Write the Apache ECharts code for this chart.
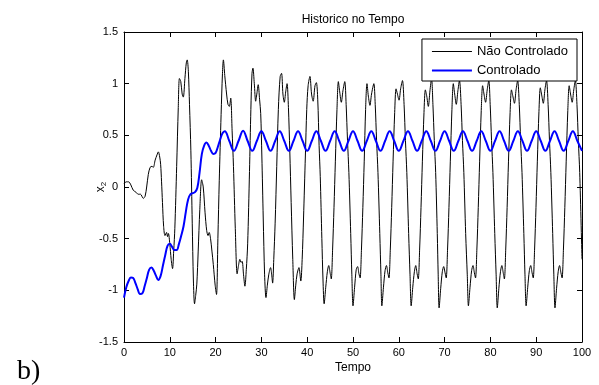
<!DOCTYPE html>
<html>
<head>
<meta charset="utf-8">
<script src="https://cdn.jsdelivr.net/npm/echarts@6/dist/echarts.min.js"></script>
<style>html,body{margin:0;padding:0;background:#fff;}#c{width:599px;height:385px;}</style>
</head>
<body>
<div id="c"></div>
<script>
// ---- data ----
var xTicks = [0,10,20,30,40,50,60,70,80,90,100];
var yTicks = [-1.5,-1,-0.5,0,0.5,1,1.5];

var naoControladoT = [
0,0.5,1.0,1.5,2.0,2.6,3.1,3.6,4.2,4.6,4.95,5.3,5.7,6.1,6.4,6.8,7.2,7.5,7.8,8.0,8.2,8.4,8.65,8.95,9.3,9.5,9.7,10.0,10.3,10.6,10.85,11.1,11.5,11.85,12.1,12.4,12.7,12.95,13.3,13.6,13.8,14.05,14.3,14.6,14.9,15.15,15.4,15.65,15.9,16.2,16.55,16.95,17.3,17.7,18.05,18.35,18.6,18.9,19.2,19.5,19.9,20.2,20.5,20.8,21.2,21.5,21.7,22.0,22.4,22.7,23.0,23.3,23.6,23.9,24.3,24.7,25.0,25.3,25.55,25.8,26.1,26.4,26.7,27.0,27.4,27.7,27.95,28.15,28.45,28.75,29.0,29.3,29.6,29.85,30.1,30.4,30.7,31.0,31.3,31.6,32.0,32.25,32.45,32.7,33.0,33.35,33.7,34.1,34.4,34.7,35.0,35.3,35.6,35.9,36.2,36.5,36.85,37.2,
37.5,37.8,38.2,38.6,38.9,39.2,39.6,39.9,40.2,40.6,40.95,41.3,41.7,42.0,42.3,42.6,42.85,43.2,43.45,43.7,
44.05,44.4,44.7,45.0,45.25,45.55,45.85,46.15,46.5,46.8,47.1,47.45,47.8,48.2,48.5,48.8,49.1,49.5,49.75,50.0,
50.35,50.7,51.0,51.3,51.55,51.85,52.15,52.45,52.75,53.05,53.35,53.7,54.05,54.55,54.85,55.15,55.45,55.85,56.1,56.3,
56.65,57.0,57.3,57.6,57.85,58.15,58.45,58.75,59.1,59.4,59.7,60.05,60.4,60.8,61.15,61.45,61.75,62.15,62.45,62.7,
63.05,63.4,63.7,64.0,64.25,64.55,64.85,65.15,65.5,65.8,66.1,66.45,66.8,67.15,67.45,67.75,68.05,68.4,68.6,68.8,
69.15,69.5,69.8,70.1,70.35,70.65,70.95,71.25,71.6,71.9,72.2,72.55,72.9,73.25,73.6,73.9,74.2,74.6,74.95,75.2,
75.55,75.9,76.2,76.5,76.75,77.05,77.35,77.65,78.0,78.3,78.6,78.95,79.3,79.65,79.95,80.25,80.55,80.95,81.25,81.5,
81.85,82.2,82.5,82.8,83.05,83.35,83.65,83.95,84.3,84.6,84.9,85.25,85.6,85.95,86.3,86.6,86.9,87.3,87.55,87.8,
88.15,88.5,88.8,89.1,89.35,89.65,89.95,90.25,90.6,90.9,91.2,91.55,91.9,92.25,92.6,92.9,93.2,93.6,93.85,94.1,
94.45,94.8,95.1,95.4,95.65,95.95,96.25,96.55,96.9,97.2,97.5,97.85,98.2,98.55,98.9,99.2,99.5,100.0
];
var naoControladoX2 = [
0.03,0.05,0.05,0.02,-0.03,-0.05,-0.07,-0.07,-0.11,-0.09,0.0,0.12,0.19,0.20,0.19,0.26,0.31,0.34,0.29,0.22,0.05,-0.15,-0.38,-0.47,-0.44,-0.48,-0.45,-0.55,-0.70,-0.79,-0.62,-0.40,0.20,0.77,1.05,1.02,0.90,0.87,1.05,1.20,1.23,1.12,0.80,0.35,-0.35,-0.90,-1.13,-1.05,-0.94,-0.62,-0.22,0.07,0.0,-0.25,-0.42,-0.47,-0.44,-0.50,-0.62,-0.75,-0.95,-1.04,-0.50,0.06,0.70,1.10,1.23,1.08,0.90,0.80,0.78,0.86,0.55,0.20,-0.40,-0.84,-0.76,-0.70,-0.73,-0.72,-0.85,-0.96,-0.80,-0.55,0.15,0.75,1.10,1.15,1.00,0.83,0.90,0.99,0.85,0.71,0.30,-0.30,-0.85,-1.07,-0.95,-0.85,-0.78,-0.85,-0.93,-0.70,-0.35,0.20,0.75,1.07,1.10,0.90,0.82,0.92,1.00,0.77,0.35,-0.15,-0.70,-1.09,
-0.95,-0.84,-0.78,-0.91,-0.70,-0.30,0.30,0.75,0.98,1.07,0.90,0.83,0.98,1.01,0.85,0.40,0.10,-0.50,-0.90,-1.13,
-0.97,-0.82,-0.76,-0.83,-0.89,-0.60,-0.20,0.25,0.75,1.02,0.92,0.82,0.93,1.02,0.80,0.45,0.14,-0.45,-0.85,-1.15,
-0.97,-0.80,-0.77,-0.84,-0.88,-0.60,-0.20,0.25,0.75,1.00,0.88,0.79,0.90,1.00,0.80,0.45,0.14,-0.45,-0.85,-1.15,
-0.97,-0.81,-0.76,-0.83,-0.88,-0.60,-0.20,0.25,0.72,0.95,0.90,0.84,0.95,1.03,0.80,0.45,0.14,-0.45,-0.85,-1.15,
-0.97,-0.82,-0.76,-0.84,-0.89,-0.60,-0.20,0.25,0.72,0.94,0.88,0.78,0.93,1.05,0.80,0.45,0.14,-0.45,-0.85,-1.17,
-0.98,-0.82,-0.77,-0.83,-0.88,-0.60,-0.20,0.25,0.75,1.00,0.90,0.80,0.93,1.03,0.80,0.45,0.14,-0.45,-0.85,-1.15,
-0.97,-0.81,-0.76,-0.83,-0.88,-0.60,-0.20,0.25,0.74,0.98,0.90,0.82,0.94,1.03,0.80,0.45,0.14,-0.45,-0.85,-1.17,
-0.98,-0.82,-0.76,-0.83,-0.89,-0.60,-0.20,0.25,0.72,0.94,0.88,0.81,0.94,1.03,0.80,0.45,0.14,-0.45,-0.85,-1.15,
-0.97,-0.81,-0.76,-0.83,-0.88,-0.60,-0.20,0.25,0.73,0.96,0.89,0.81,0.94,1.03,0.80,0.45,0.14,-0.45,-0.85,-1.17,
-0.98,-0.82,-0.76,-0.83,-0.88,-0.60,-0.20,0.25,0.74,0.98,0.90,0.82,0.94,1.03,0.80,0.45,0.14,-0.70
];

var controladoT = [
0,0.5,1,1.5,2,2.5,3,3.5,4,4.5,5,5.5,6,6.5,7,7.5,8,8.5,9,9.5,10,10.5,11,11.5,12,12.5,13,13.5,14,14.5,15,15.5,16,16.5,17,17.5,18,18.5,19,19.5,20,20.5,21,21.5,22,
23,24,25,26,27,28,29,30,31,32,33,34,35,36,37,38,39,40,41,42,43,44,45,46,47,48,49,50,51,52,53,54,55,56,57,58,59,60,61,62,63,64,65,66,67,68,69,70,71,72,73,74,75,76,77,78,79,80,81,82,83,84,85,86,87,88,89,90,91,92,93,94,95,96,97,98,99,100
];
var controladoX2 = [
-1.07,-0.97,-0.91,-0.875,-0.88,-0.93,-0.99,-1.035,-1.03,-0.96,-0.88,-0.80,-0.78,-0.81,-0.86,-0.90,-0.86,-0.76,-0.66,-0.57,-0.55,-0.58,-0.61,-0.61,-0.55,-0.47,-0.38,-0.24,-0.12,-0.07,-0.06,-0.05,-0.01,0.14,0.32,0.40,0.43,0.40,0.35,0.32,0.33,0.39,0.46,0.52,0.54,
0.445,0.35,0.445,0.545,0.445,0.35,0.445,0.54,0.445,0.35,0.445,0.54,0.445,0.35,0.445,0.54,0.445,0.35,0.445,0.54,0.445,0.35,0.445,0.54,0.445,0.35,0.445,0.54,0.445,0.35,0.445,0.54,0.445,0.35,0.445,0.54,0.445,0.35,0.445,0.54,0.445,0.35,0.445,0.54,0.445,0.35,0.445,0.54,0.445,0.35,0.445,0.54,0.445,0.35,0.445,0.54,0.445,0.35,0.445,0.54,0.445,0.35,0.445,0.54,0.445,0.35,0.445,0.54,0.445,0.35,0.445,0.54,0.445,0.35,0.445,0.54,0.445,0.35
];

var seriesNames = ['Não Controlado', 'Controlado'];
var titleText = 'Historico no Tempo';
var xName = 'Tempo';
var panelLabel = 'b)';

function zip(a, b) { var r = []; for (var i = 0; i < a.length; i++) r.push([a[i], b[i]]); return r; }

var FONT = 'Liberation Sans, Arial, sans-serif';
var chart = echarts.init(document.getElementById('c'), null, {renderer: 'canvas'});

var axisCommon = {
  type: 'value',
  axisLine: {show: true, onZero: false, lineStyle: {color: '#000', width: 1}},
  axisTick: {show: true, inside: true, length: 5, lineStyle: {color: '#000', width: 1}},
  splitLine: {show: false},
  axisLabel: {color: '#000', fontSize: 11, fontFamily: FONT}
};

chart.setOption({
  animation: false,
  backgroundColor: '#fff',
  grid: {left: 124, right: 17, top: 32, bottom: 43, containLabel: false},
  xAxis: [
    Object.assign({}, axisCommon, {
      position: 'bottom', min: xTicks[0], max: xTicks[xTicks.length - 1], interval: xTicks[1] - xTicks[0],
      axisLabel: Object.assign({}, axisCommon.axisLabel, {margin: 5}),
      name: xName, nameLocation: 'middle', nameGap: 20, nameMoveOverlap: false,
      nameTextStyle: {color: '#000', fontSize: 12, fontFamily: FONT}
    }),
    Object.assign({}, axisCommon, {
      position: 'top', min: xTicks[0], max: xTicks[xTicks.length - 1], interval: xTicks[1] - xTicks[0],
      axisLabel: {show: false}
    })
  ],
  yAxis: [
    Object.assign({}, axisCommon, {
      position: 'left', min: yTicks[0], max: yTicks[yTicks.length - 1], interval: yTicks[1] - yTicks[0],
      axisLabel: Object.assign({}, axisCommon.axisLabel, {margin: 6}),
      name: 'x{s|2}', nameLocation: 'middle', nameGap: 16, nameMoveOverlap: false,
      nameTextStyle: {color: '#000', fontSize: 12, fontFamily: FONT,
        rich: {s: {fontSize: 8, fontFamily: FONT, color: '#000', padding: [6, 0, 0, 0]}}}
    }),
    Object.assign({}, axisCommon, {
      position: 'right', min: yTicks[0], max: yTicks[yTicks.length - 1], interval: yTicks[1] - yTicks[0],
      axisLabel: {show: false}
    })
  ],
  legend: {
    orient: 'vertical', right: 22, top: 39,
    itemWidth: 40, itemHeight: 14, itemGap: 6,
    padding: [6, 9, 4, 9],
    borderColor: '#000', borderWidth: 1, backgroundColor: '#fff',
    textStyle: {color: '#000', fontSize: 13, fontFamily: FONT},
    itemStyle: {opacity: 0},
    z: 10,
    data: [
      {name: seriesNames[0], lineStyle: {width: 1, color: '#000'}, itemStyle: {opacity: 0}},
      {name: seriesNames[1], lineStyle: {width: 2, color: '#0000ff'}, itemStyle: {opacity: 0}}
    ]
  },
  graphic: [
    {type: 'text', x: 353, y: 20, z: 20, style: {text: titleText, fill: '#000', font: '12px ' + FONT, textAlign: 'center', textVerticalAlign: 'middle'}},
    {type: 'text', x: 17, y: 372, z: 20, style: {text: panelLabel, fill: '#000', font: '28px Liberation Serif, Times New Roman, serif', textAlign: 'left', textVerticalAlign: 'middle'}}
  ],
  series: [
    {name: seriesNames[0], type: 'line', xAxisIndex: 0, yAxisIndex: 0, data: zip(naoControladoT, naoControladoX2),
     symbol: 'none', smooth: 0.3, lineStyle: {color: '#000', width: 1}, itemStyle: {color: '#000'}, z: 2},
    {name: seriesNames[1], type: 'line', xAxisIndex: 0, yAxisIndex: 0, data: zip(controladoT, controladoX2),
     symbol: 'none', smooth: 0.4, lineStyle: {color: '#0000ff', width: 2}, itemStyle: {color: '#0000ff'}, z: 3}
  ]
});
</script>
</body>
</html>
